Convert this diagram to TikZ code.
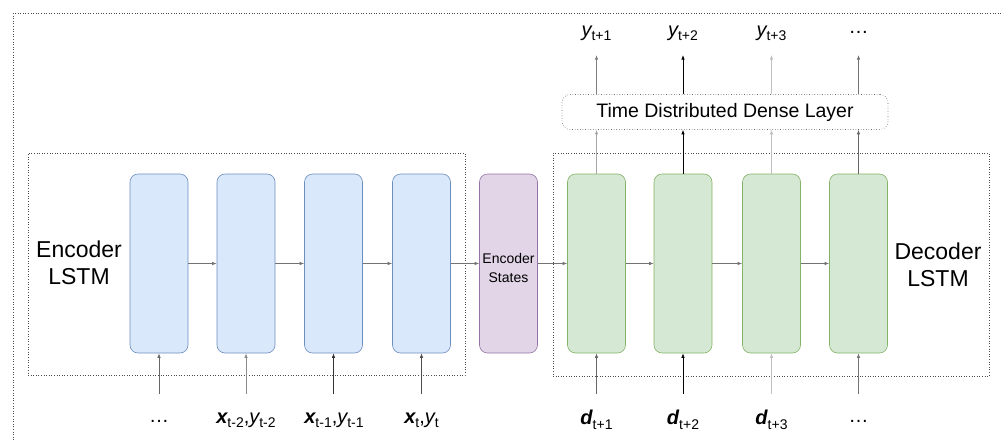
\documentclass[tikz,border=0pt]{standalone}
\usepackage{fontspec}
\setmainfont{Liberation Sans}
\usetikzlibrary{arrows.meta}
\definecolor{bfill}{HTML}{DAE8FC}\definecolor{bdraw}{HTML}{6C8EBF}
\definecolor{pfill}{HTML}{E1D5E7}\definecolor{pdraw}{HTML}{9673A6}
\definecolor{gfill}{HTML}{D5E8D4}\definecolor{gdraw}{HTML}{82B366}
\newcommand{\mysub}[1]{\raisebox{-0.22em}{\fontsize{14}{14}\selectfont #1}}
\newcommand{\bx}[1]{{\bfseries\itshape #1}}
\newcommand{\iy}[1]{{\itshape #1}}
\begin{document}
\begin{tikzpicture}[x=1pt,y=-1pt,
 cell/.style={rounded corners=8pt, minimum width=58pt, minimum height=179pt, inner sep=0pt, line width=0.6pt},
 enc/.style={cell, fill=bfill, draw=bdraw},
 st/.style={cell, fill=pfill, draw=pdraw},
 sttext/.style={inner sep=0pt, align=center, font=\fontsize{14}{19}\selectfont},
 dec/.style={cell, fill=gfill, draw=gdraw},
 box/.style={draw=black!70, dotted, line width=0.6pt, inner sep=0pt},
 arr/.style={-{Latex[length=4.5pt,width=3.5pt]}, line width=0.7pt, draw=#1},
 arr/.default=black!55,
 lab/.style={inner sep=0pt, font=\fontsize{20}{24}\selectfont},
 big/.style={inner sep=0pt, align=center, font=\fontsize{23}{27}\selectfont},
]
\path[use as bounding box] (0,0) rectangle (1002,440);
% outer frame (clipped by page)
\draw[box] (13,440) -- (13,13) -- (1002,13);
% group boxes
\node[box, minimum width=437pt, minimum height=222pt] (encbox) at (246.5,264) {};
\node[box, minimum width=436pt, minimum height=223pt] (decbox) at (771,264.5) {};
\node[big] (enclab) at (79,263) {Encoder\\LSTM};
\node[big] (declab) at (938,265) {Decoder\\LSTM};
% cells
\node[enc] (e1) at (159,263.5) {};
\node[enc] (e2) at (246,263.5) {};
\node[enc] (e3) at (333.5,263.5) {};
\node[enc] (e4) at (421.5,263.5) {};
\node[st] (es) at (508.5,263.5) {};
\node[sttext] (estext) at (508.5,268) {Encoder\\States};
\node[dec] (d1) at (596.5,263.5) {};
\node[dec] (d2) at (683,263.5) {};
\node[dec] (d3) at (771.5,263.5) {};
\node[dec] (d4) at (858.5,263.5) {};
% dense layer
\node[draw=black!60, dotted, line width=0.6pt, rounded corners=8pt, minimum width=326pt, minimum height=35pt, inner sep=0pt,
      font=\fontsize{19.5}{22}\selectfont] (dense) at (725,112) {Time Distributed Dense Layer};
% horizontal arrows
\draw[arr] (e1.east) -- (e2.west);
\draw[arr] (e2.east) -- (e3.west);
\draw[arr] (e3.east) -- (e4.west);
\draw[arr] (e4.east) -- (es.west);
\draw[arr] (es.east) -- (d1.west);
\draw[arr] (d1.east) -- (d2.west);
\draw[arr] (d2.east) -- (d3.west);
\draw[arr] (d3.east) -- (d4.west);
% input labels
\node[lab] (i1) at (159,421) {\dots};
\node[lab] (i2) at (246,420) {\bx{x}\mysub{t-2},\iy{y}\mysub{t-2}};
\node[lab] (i3) at (334,420) {\bx{x}\mysub{t-1},\iy{y}\mysub{t-1}};
\node[lab] (i4) at (421.5,420) {\bx{x}\mysub{t},\iy{y}\mysub{t}};
\node[lab] (j1) at (596.5,420) {\bx{d}\mysub{t+1}};
\node[lab] (j2) at (683,420) {\bx{d}\mysub{t+2}};
\node[lab] (j3) at (771.5,420) {\bx{d}\mysub{t+3}};
\node[lab] (j4) at (858.5,421) {\dots};
\foreach \c in {e1,e2,e3,e4,d1,d2,d3,d4} \coordinate (s\c) at (\c.south |- 0,394);
\draw[arr=black!60] (se1) -- (e1.south);
\draw[arr=black!45] (se2) -- (e2.south);
\draw[arr=black!80] (se3) -- (e3.south);
\draw[arr=black!70] (se4) -- (e4.south);
\draw[arr=black!60] (sd1) -- (d1.south);
\draw[arr=black] (sd2) -- (d2.south);
\draw[arr=black!25] (sd3) -- (d3.south);
\draw[arr=black!55] (sd4) -- (d4.south);
% to dense layer
\draw[arr=black!35] (d1.north) -- (d1.north |- dense.south);
\draw[arr=black] (d2.north) -- (d2.north |- dense.south);
\draw[arr=black!25] (d3.north) -- (d3.north |- dense.south);
\draw[arr=black!60] (d4.north) -- (d4.north |- dense.south);
% outputs
\node[lab] (o1) at (596.5,33) {\iy{y}\mysub{t+1}};
\node[lab] (o2) at (683,33) {\iy{y}\mysub{t+2}};
\node[lab] (o3) at (771.5,33) {\iy{y}\mysub{t+3}};
\node[lab] (o4) at (858.5,32) {\dots};
\foreach \c in {d1,d2,d3,d4} \coordinate (t\c) at (\c.north |- 0,55);
\draw[arr=black!50] (d1.north |- dense.north) -- (td1);
\draw[arr=black] (d2.north |- dense.north) -- (td2);
\draw[arr=black!25] (d3.north |- dense.north) -- (td3);
\draw[arr=black!55] (d4.north |- dense.north) -- (td4);
\end{tikzpicture}
\end{document}
